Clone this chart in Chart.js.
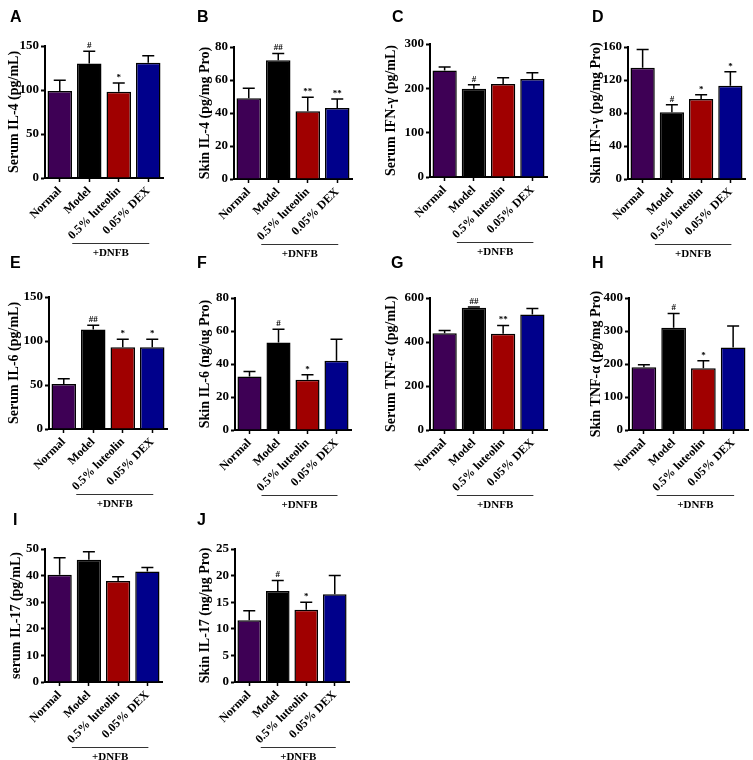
<!DOCTYPE html>
<html>
<head>
<meta charset="utf-8">
<script src="https://cdn.jsdelivr.net/npm/chart.js@4.4.1/dist/chart.umd.min.js"></script>
<style>
  body { margin: 0; background: #fff; width: 753px; height: 760px; position: relative; overflow: hidden; }
  canvas { position: absolute; }
</style>
</head>
<body>
<script>
// groups shared by every panel
const categories = ['Normal', 'Model', '0.5% luteolin', '0.05% DEX'];
const barColors = ['#3e0055', '#000000', '#a00000', '#00008b'];
const groupLabel = '+DNFB';

const panelLetters = ['A', 'B', 'C', 'D', 'E', 'F', 'G', 'H', 'I', 'J'];
const yTitles = [
  'Serum IL-4 (pg/mL)', 'Skin IL-4 (pg/mg Pro)', 'Serum IFN-γ (pg/mL)', 'Skin IFN-γ (pg/mg Pro)',
  'Serum IL-6 (pg/mL)', 'Skin IL-6 (ng/ug Pro)', 'Serum TNF-α (pg/mL)', 'Skin TNF-α (pg/mg Pro)',
  'serum IL-17 (pg/mL)', 'Skin IL-17 (ng/μg Pro)'
];
const yMax = [150, 80, 300, 160, 150, 80, 600, 400, 50, 25];
const yStep = [50, 20, 100, 40, 50, 20, 200, 100, 10, 5];

// means, upper error (SD) and significance marks
const means = [
  [99, 130, 98, 131],
  [49, 72, 41, 43],
  [240, 199, 210, 221],
  [135, 81, 97, 113],
  [51, 113, 93, 93],
  [32.5, 53, 30.5, 42],
  [440, 556, 438, 525],
  [190, 310, 187, 250],
  [40.3, 46, 38, 41.5],
  [11.6, 17.1, 13.6, 16.5]
];
const errors = [
  [12, 14, 10, 8],
  [6, 4, 8.5, 5.5],
  [8, 9, 14, 14],
  [22, 9, 5, 17],
  [6, 5, 9, 9],
  [3, 8, 3, 13],
  [12, 3, 37, 27],
  [8, 43, 23, 65],
  [6.4, 3, 1.6, 1.5],
  [1.8, 2, 1.4, 3.5]
];
const marks = [
  ['', '#', '*', ''],
  ['', '##', '**', '**'],
  ['', '#', '', ''],
  ['', '#', '*', '*'],
  ['', '##', '*', '*'],
  ['', '#', '*', ''],
  ['', '##', '**', ''],
  ['', '#', '*', ''],
  ['', '', '', ''],
  ['', '#', '*', '']
];

// page layout of each panel (absolute px): axis x, plot right, plot top, plot bottom, title centre, letter pos
const layout = [
  { axisX: 45,  right: 163, top: 46,  bottom: 178, titleX: 14,  lx: 10,  ly: 10 },
  { axisX: 234, right: 352, top: 47,  bottom: 179, titleX: 205, lx: 197, ly: 10 },
  { axisX: 430, right: 547, top: 44,  bottom: 177, titleX: 391, lx: 392, ly: 10 },
  { axisX: 628, right: 745, top: 47,  bottom: 179, titleX: 596, lx: 592, ly: 10 },
  { axisX: 49,  right: 167, top: 297, bottom: 429, titleX: 14,  lx: 10,  ly: 256 },
  { axisX: 235, right: 351, top: 298, bottom: 430, titleX: 205, lx: 197, ly: 256 },
  { axisX: 430, right: 547, top: 298, bottom: 430, titleX: 391, lx: 391, ly: 256 },
  { axisX: 629, right: 748, top: 298, bottom: 430, titleX: 596, lx: 592, ly: 256 },
  { axisX: 45,  right: 162, top: 549, bottom: 682, titleX: 16,  lx: 13,  ly: 513 },
  { axisX: 235, right: 349, top: 549, bottom: 682, titleX: 205, lx: 197, ly: 513 }
];
const rowTops = [0, 250, 500];
const canvasH = 262;

Chart.defaults.font.family = '"Liberation Serif", "Times New Roman", serif';
Chart.defaults.font.weight = 'bold';
Chart.defaults.color = '#000';

const extras = {
  id: 'extras',
  afterDraw(chart, args, opts) {
    const ctx = chart.ctx;
    const xs = chart.scales.x;
    const ys = chart.scales.y;
    const meta = chart.getDatasetMeta(0);
    ctx.save();
    ctx.strokeStyle = '#000';
    ctx.fillStyle = '#000';
    ctx.lineWidth = 1.5;
    opts.errors.forEach((e, i) => {
      const bar = meta.data[i];
      const yTop = ys.getPixelForValue(opts.means[i] + e);
      ctx.beginPath();
      ctx.moveTo(bar.x, bar.y);
      ctx.lineTo(bar.x, yTop);
      ctx.moveTo(bar.x - 6, yTop);
      ctx.lineTo(bar.x + 6, yTop);
      ctx.stroke();
      if (opts.marks[i]) {
        ctx.font = 'bold 9px "Liberation Serif"';
        ctx.textAlign = 'center';
        ctx.textBaseline = 'bottom';
        ctx.fillText(opts.marks[i], bar.x, yTop - 1);
      }
    });

    // +DNFB bracket under the three treated groups
    const x0 = xs.getPixelForValue(1) - 17;
    const x1 = xs.getPixelForValue(3) + 1;
    const ly = Math.round(ys.bottom + 65) + 0.5;
    ctx.strokeStyle = '#333';
    ctx.lineWidth = 1;
    ctx.beginPath();
    ctx.moveTo(x0, ly);
    ctx.lineTo(x1, ly);
    ctx.stroke();
    ctx.font = 'bold 11px "Liberation Serif"';
    ctx.textAlign = 'center';
    ctx.textBaseline = 'middle';
    ctx.fillText(opts.group, (x0 + x1) / 2, ly + 10);

    // panel letter
    ctx.font = 'bold 16px "Liberation Sans", Arial, sans-serif';
    ctx.textAlign = 'left';
    ctx.textBaseline = 'top';
    ctx.fillText(opts.letter, opts.lx, opts.ly);
    ctx.restore();
  }
};

function makePanel(i) {
  const L = layout[i];
  const rowTop = rowTops[Math.floor(i / 4)];
  const left = Math.round(L.titleX - 12.4);
  const width = Math.min(753 - left, L.right + 8 - left);
  const yWidth = L.axisX - left;
  const xHeight = canvasH - (L.bottom - rowTop);

  const canvas = document.createElement('canvas');
  canvas.width = width;
  canvas.height = canvasH;
  canvas.style.left = left + 'px';
  canvas.style.top = rowTop + 'px';
  document.body.appendChild(canvas);

  new Chart(canvas, {
    type: 'bar',
    data: {
      labels: categories,
      datasets: [{
        data: means[i],
        backgroundColor: barColors,
        borderColor: '#000',
        borderWidth: 1.5,
        barPercentage: 0.83,
        categoryPercentage: 1.0
      }]
    },
    options: {
      responsive: false,
      animation: false,
      events: [],
      layout: { padding: { left: 0, top: L.top - rowTop, right: width - (L.right - left), bottom: 0 } },
      plugins: {
        legend: { display: false },
        tooltip: { enabled: false },
        extras: {
          means: means[i], errors: errors[i], marks: marks[i],
          group: groupLabel, letter: panelLetters[i],
          lx: L.lx - left, ly: L.ly - rowTop
        }
      },
      scales: {
        x: {
          grid: { display: true, drawOnChartArea: false, offset: false, tickLength: 4, tickWidth: 1.5, tickColor: '#000' },
          border: { display: true, color: '#000', width: 2 },
          ticks: {
            autoSkip: false, maxRotation: 45, minRotation: 45, padding: 2,
            font: { size: 12, weight: 'bold' }, color: '#000'
          },
          afterFit: s => { s.height = xHeight; }
        },
        y: {
          min: 0, max: yMax[i],
          grid: { display: true, drawOnChartArea: false, tickLength: 4, tickWidth: 2, tickColor: '#000' },
          border: { display: true, color: '#000', width: 2 },
          ticks: { stepSize: yStep[i], padding: 2, font: { size: 13, weight: 'bold' }, color: '#000' },
          title: { display: true, text: yTitles[i], font: { size: 14, weight: 'bold' }, color: '#000' },
          afterFit: s => { s.width = yWidth; }
        }
      }
    },
    plugins: [extras]
  });
}

for (let i = 0; i < panelLetters.length; i++) makePanel(i);
</script>
</body>
</html>
